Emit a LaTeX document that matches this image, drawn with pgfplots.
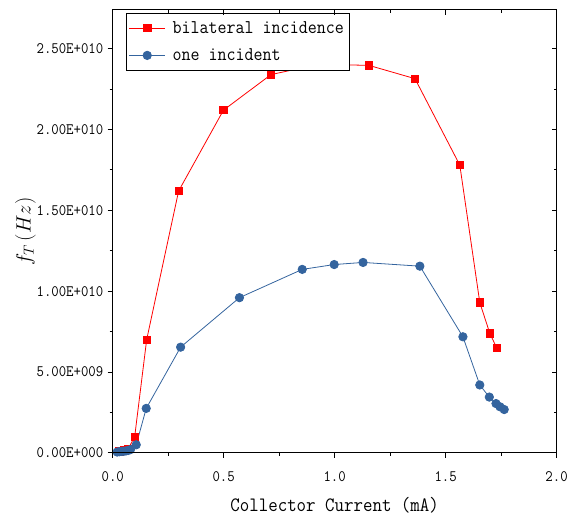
\documentclass[border=0pt]{standalone}
\usepackage{fontspec}
\setmainfont{Latin Modern Mono}[FakeStretch=0.9]
\usepackage{pgfplots}
\pgfplotsset{compat=1.18}
\usetikzlibrary{calc}
\definecolor{redser}{RGB}{255,0,0}
\definecolor{blueser}{RGB}{52,100,158}
\newcommand{\tl}[1]{\mbox{\fontsize{16}{18}\selectfont #1}}

\begin{document}
\begin{tikzpicture}
\begin{axis}[name=ax,
  scale only axis, width=445pt, height=444pt,
  xmin=0, xmax=2.0, ymin=0, ymax=2.74e10,
  xtick={0,0.5,1.0,1.5,2.0},
  xticklabels={\tl{0.0},\tl{0.5},\tl{1.0},\tl{1.5},\tl{2.0}},
  minor x tick num=1,
  ytick={0,5e9,1e10,1.5e10,2e10,2.5e10},
  yticklabels={\tl{0.00E+000},\tl{5.00E+009},\tl{1.00E+010},\tl{1.50E+010},\tl{2.00E+010},\tl{2.50E+010}},
  minor y tick num=1,
  scaled y ticks=false,
  tick pos=left, tick align=outside,
  major tick length=5pt, minor tick length=3pt,
  axis line style={line width=1pt}, tick style={line width=1pt,black},
  xticklabel style={yshift=-10pt},
  yticklabel style={xshift=-1pt},
  xlabel={Collector Current (mA)},
  xlabel style={font=\fontsize{20.5}{22}\selectfont, yshift=-9pt},
  ylabel={$f_T\,(Hz)$},
  ylabel style={font=\fontsize{22}{24}\selectfont, yshift=-6pt},
  legend style={at={(rel axis cs:0.029,0.993)}, anchor=north west,
    font=\fontsize{19.5}{21}\selectfont, draw=black, line width=0.6pt,
    inner xsep=3pt, inner ysep=6pt, row sep=10pt},
  legend cell align=left,
  legend image code/.code={%
    \draw[mark repeat=2,mark phase=2] plot coordinates {(0pt,0pt) (18pt,0pt) (36pt,0pt)};},
]
\addplot[redser, line width=0.8pt, mark=square*, mark size=3.7pt,
  mark options={solid,fill=redser,draw=redser}] coordinates {
  (0.03,0.10e9) (0.05,0.15e9) (0.07,0.25e9) (0.099,1.0e9) (0.153,7.0e9)
  (0.297,16.2e9) (0.499,21.2e9) (0.713,23.4e9) (0.93,24.05e9) (1.155,23.97e9)
  (1.362,23.15e9) (1.564,17.8e9) (1.654,9.3e9) (1.699,7.4e9) (1.730,6.5e9)};
\addlegendentry{\hspace{5pt}bilateral incidence}
\addplot[blueser, line width=0.8pt, mark=*, mark size=4.2pt,
  mark options={solid,fill=blueser,draw=blueser}] coordinates {
  (0.02,0.05e9) (0.03,0.07e9) (0.04,0.09e9) (0.05,0.10e9) (0.06,0.12e9)
  (0.07,0.15e9) (0.08,0.20e9) (0.106,0.5e9) (0.151,2.75e9) (0.306,6.54e9)
  (0.571,9.6e9) (0.854,11.35e9) (0.998,11.65e9) (1.128,11.78e9) (1.384,11.55e9)
  (1.578,7.18e9) (1.654,4.2e9) (1.697,3.45e9) (1.727,3.05e9) (1.745,2.85e9)
  (1.764,2.68e9)};
\addlegendentry{\hspace{5pt}one incident}
\end{axis}
\begin{axis}[
  scale only axis, width=445pt, height=444pt,
  xmin=0, xmax=2.0, ymin=0, ymax=2.74e10,
  xtick={0,0.5,1.0,1.5,2.0}, minor x tick num=1,
  ytick={0,5e9,1e10,1.5e10,2e10,2.5e10}, minor y tick num=1,
  scaled y ticks=false,
  xticklabels={}, yticklabels={},
  tick pos=right, tick align=inside,
  major tick length=5pt, minor tick length=3pt,
  axis line style={line width=1pt}, tick style={line width=1pt,black},
]
\end{axis}
\path ($(ax.south west)+(-113pt,-66pt)$) rectangle ($(ax.north east)+(13pt,10pt)$);
\end{tikzpicture}
\end{document}
